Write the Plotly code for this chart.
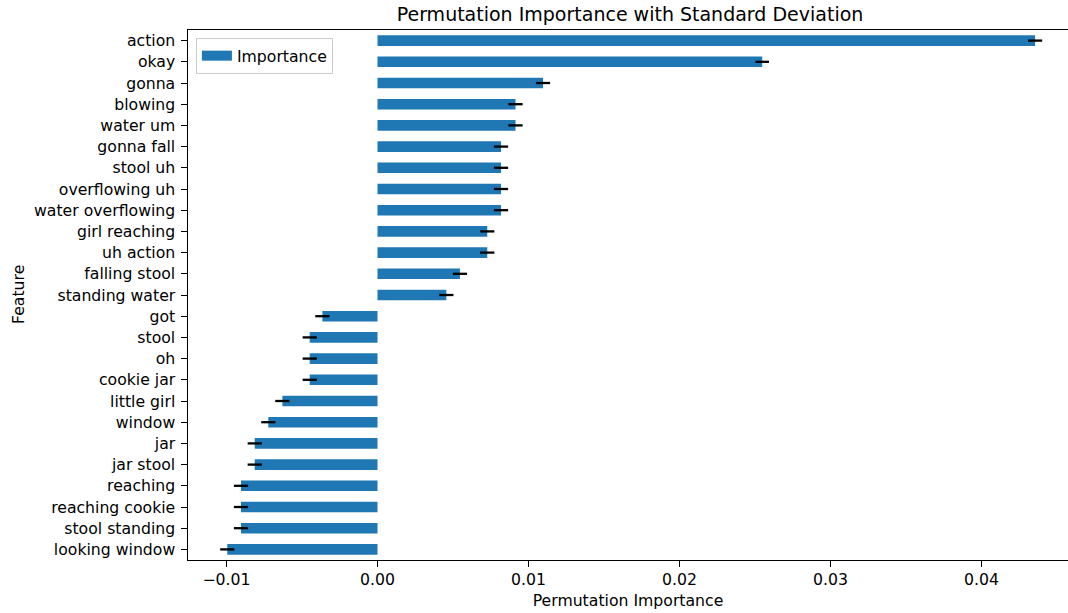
import plotly.graph_objects as go

features = ["action", "okay", "gonna", "blowing", "water um", "gonna fall", "stool uh",
            "overflowing uh", "water overflowing", "girl reaching", "uh action",
            "falling stool", "standing water", "got", "stool", "oh", "cookie jar",
            "little girl", "window", "jar", "jar stool", "reaching", "reaching cookie",
            "stool standing", "looking window"]
importance = [0.04355, 0.02548, 0.01096, 0.00914, 0.00914, 0.00818, 0.00818,
              0.00818, 0.00818, 0.00727, 0.00727, 0.00546, 0.00456, -0.00365,
              -0.00449, -0.00449, -0.00449, -0.00630, -0.00723, -0.00813, -0.00813,
              -0.00904, -0.00904, -0.00904, -0.00995]
std_dev = [0.00047, 0.00045, 0.00047, 0.00047, 0.00047, 0.00047, 0.00047,
           0.00047, 0.00047, 0.00047, 0.00047, 0.00047, 0.00047, 0.00047,
           0.00047, 0.00047, 0.00047, 0.00047, 0.00047, 0.00047, 0.00047,
           0.00047, 0.00047, 0.00047, 0.00047]
x_ticks = [-0.01, 0.0, 0.01, 0.02, 0.03, 0.04]

FONT = "DejaVu Sans"
FS = 15.7
BLUE = "#1f77b4"

fig = go.Figure()
fig.add_trace(go.Bar(
    x=importance, y=features, orientation="h", name="Importance",
    width=0.5,
    marker=dict(color=BLUE, line=dict(width=0)),
    error_x=dict(type="data", array=std_dev, visible=True,
                 color="black", thickness=2.3, width=0),
    showlegend=False,
))
# legend proxy (wide rectangular swatch like the reference)
fig.add_trace(go.Scatter(
    x=[None], y=[None], mode="lines", name="Importance",
    line=dict(color=BLUE, width=11), showlegend=True, hoverinfo="skip",
))

fig.update_layout(
    width=1068, height=613,
    margin=dict(l=188, r=0, t=30, b=53),
    plot_bgcolor="white", paper_bgcolor="white",
    font=dict(family=FONT, size=FS, color="black"),
    showlegend=True,
    legend=dict(x=0.009, y=0.985, xanchor="left", yanchor="top",
                bordercolor="#cccccc", borderwidth=1,
                bgcolor="rgba(255,255,255,0.8)", itemwidth=30,
                font=dict(family=FONT, size=FS, color="black")),
    title=dict(text="Permutation Importance with Standard Deviation",
               x=630/1068, xref="container", xanchor="center",
               y=1 - 14/613, yref="container", yanchor="middle",
               font=dict(family=FONT, size=19, color="black")),
)

fig.update_xaxes(
    range=[-0.01255, 0.04573],
    tickvals=x_ticks, tickformat=".2f",
    showgrid=False, zeroline=False,
    showline=True, linecolor="black", linewidth=1.25, mirror=True,
    ticks="outside", ticklen=5.5, tickcolor="black", tickwidth=1.25,
    tickfont=dict(family=FONT, size=FS, color="black"),
    title=dict(text="Permutation Importance", standoff=6,
               font=dict(family=FONT, size=FS, color="black")),
)
fig.update_yaxes(
    range=[24.5, -0.5],
    showgrid=False, zeroline=False,
    showline=True, linecolor="black", linewidth=1.25, mirror=False,
    ticks="outside", ticklen=5.5, tickcolor="black", tickwidth=1.25,
    ticklabelstandoff=3,
    tickfont=dict(family=FONT, size=FS, color="black"),
)

fig.add_annotation(text="Feature", xref="paper", yref="paper",
                   x=-(188 - 18) / 880, y=0.5, xanchor="center", yanchor="middle",
                   textangle=-90, showarrow=False,
                   font=dict(family=FONT, size=FS, color="black"))

fig.write_html("out.html", config={"displayModeBar": False},
               post_script="document.body.style.margin='0';document.body.style.overflow='hidden';")
